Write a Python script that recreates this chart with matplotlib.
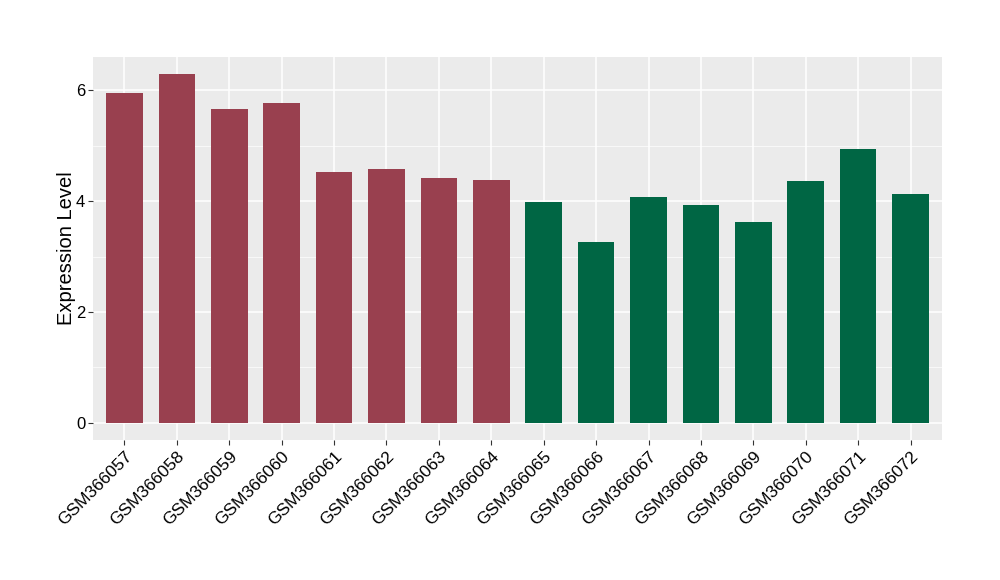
import matplotlib
matplotlib.use("Agg")
import matplotlib.pyplot as plt
import numpy as np

samples = ["GSM366057", "GSM366058", "GSM366059", "GSM366060", "GSM366061",
           "GSM366062", "GSM366063", "GSM366064", "GSM366065", "GSM366066",
           "GSM366067", "GSM366068", "GSM366069", "GSM366070", "GSM366071",
           "GSM366072"]
values = [5.95, 6.29, 5.66, 5.78, 4.52, 4.58, 4.41, 4.38,
          3.98, 3.26, 4.07, 3.93, 3.62, 4.36, 4.95, 4.13]
groups = ["A"] * 8 + ["B"] * 8
group_colors = {"A": "#99404F", "B": "#006644"}
y_ticks = [0, 2, 4, 6]

plt.rcParams["font.family"] = ["Liberation Sans", "DejaVu Sans"]

fig = plt.figure(figsize=(10, 5.8), dpi=100)
ax = fig.add_axes([0.093, 0.2414, 0.849, 0.6603])

x = np.arange(len(samples))
ax.bar(x, values, width=0.7, color=[group_colors[g] for g in groups], zorder=3)

ax.set_facecolor("#EBEBEB")
for s in ax.spines.values():
    s.set_visible(False)

ax.set_xlim(-0.6, len(samples) - 0.4)
top = max(values)
ax.set_ylim(-0.05 * top, top * 1.05)

ax.set_yticks(y_ticks)
ax.set_yticks([1, 3, 5], minor=True)
ax.set_xticks(x)
ax.set_xticklabels(samples, rotation=45, ha="right", rotation_mode="anchor")

ax.grid(True, which="major", color="white", linewidth=1.1, zorder=0)
ax.grid(True, which="minor", axis="y", color="white", linewidth=0.5, zorder=0)
ax.set_axisbelow(True)

ax.tick_params(axis="both", which="major", length=3.5, color="#333333",
               labelcolor="black", width=0.8)
ax.tick_params(axis="x", labelsize=12.5, pad=3)
ax.tick_params(axis="y", labelsize=12, pad=2)
ax.tick_params(axis="y", which="minor", length=0)

ax.set_ylabel("Expression Level", fontsize=14.5, labelpad=0)

fig.savefig("out.png", dpi=100)
